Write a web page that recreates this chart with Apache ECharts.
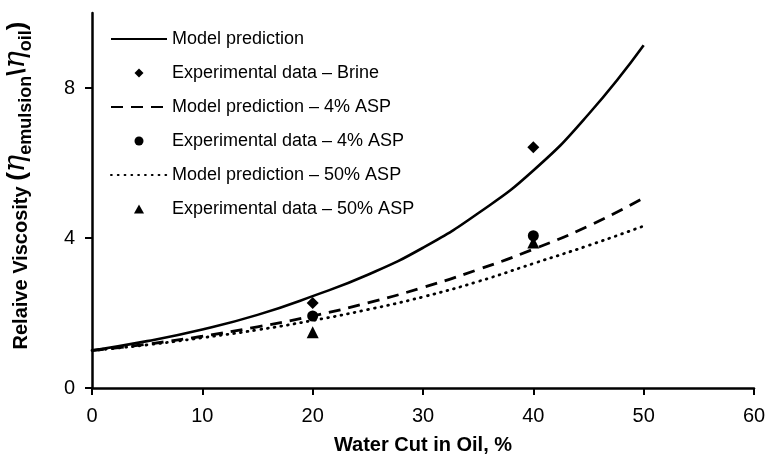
<!DOCTYPE html>
<html>
<head>
<meta charset="utf-8">
<script src="https://cdn.jsdelivr.net/npm/echarts@6/dist/echarts.min.js"></script>
<style>
  html, body { margin: 0; padding: 0; background: #fff; }
  #chart { width: 775px; height: 455px; }
</style>
</head>
<body>
<div id="chart"></div>
<script>
// Water cut (%) sample points for the model curves
const waterCut = [0, 5, 10, 15, 20, 25, 30, 35, 40, 45, 50];
const modelBrine = [1.00, 1.25, 1.56, 1.95, 2.45, 3.02, 3.74, 4.66, 5.80, 7.30, 9.14];
const model4ASP = [1.00, 1.17, 1.38, 1.63, 1.92, 2.27, 2.68, 3.16, 3.70, 4.32, 5.07];
const model50ASP = [1.00, 1.15, 1.34, 1.55, 1.80, 2.09, 2.43, 2.84, 3.32, 3.80, 4.32];

// Measured relative viscosity
const expWaterCut = [20, 40];
const expBrine = [2.27, 6.42];
const exp4ASP = [1.92, 4.06];
const exp50ASP = [1.49, 3.88];

const yTicks = [0, 4, 8];

const names = [
  'Model prediction',
  'Experimental data \u2013 Brine',
  'Model prediction \u2013 4% ASP',
  'Experimental data \u2013 4% ASP',
  'Model prediction \u2013 50% ASP',
  'Experimental data \u2013 50% ASP'
];

const pair = (xs, ys) => xs.map((x, i) => [x, ys[i]]);
const font = '"Liberation Sans", Arial, sans-serif';

const DIAMOND = 'path://M5,0 L10,5 L5,10 L0,5 Z';
const TRIANGLE = 'path://M5,0 L10,9 L0,9 Z';

function curve(name, ys, type, width) {
  return {
    name, type: 'line', smooth: true, showSymbol: false, symbol: 'none',
    data: pair(waterCut, ys),
    lineStyle: { color: '#000', width: width, type: type, cap: Array.isArray(type) && type[0] < 2 ? 'round' : 'butt' },
    itemStyle: { color: '#000' },
    z: 2
  };
}
function points(name, ys, symbol, size) {
  return {
    name, type: 'scatter', symbol, symbolSize: size,
    data: pair(expWaterCut, ys),
    itemStyle: { color: '#000', opacity: 1 },
    z: 3
  };
}

const chart = echarts.init(document.getElementById('chart'), null, { renderer: 'canvas' });
chart.setOption({
  animation: false,
  backgroundColor: '#fff',
  textStyle: { fontFamily: font },
  grid: { left: 92, right: 21, top: 13, bottom: 67, containLabel: false, outerBoundsMode: 'none' },
  legend: {
    orient: 'vertical', left: 110, top: 29, padding: 0,
    itemWidth: 56, itemHeight: 9, itemGap: 14,
    textStyle: { fontSize: 18, color: '#000', lineHeight: 20, fontFamily: font },
    data: [
      { name: names[0], itemStyle: { opacity: 0 } },
      { name: names[1], icon: DIAMOND },
      { name: names[2], itemStyle: { opacity: 0 } },
      { name: names[3], icon: 'circle' },
      { name: names[4], itemStyle: { opacity: 0 } },
      { name: names[5], icon: TRIANGLE }
    ]
  },
  xAxis: {
    type: 'value', min: 0, max: 60, interval: 10,
    name: 'Water Cut in Oil, %', nameLocation: 'middle', nameGap: 47,
    nameTextStyle: { fontSize: 20, fontWeight: 'bold', color: '#000', fontFamily: font },
    axisLine: { show: true, onZero: false, lineStyle: { color: '#000', width: 2.5 } },
    axisTick: { show: true, inside: false, length: 7, lineStyle: { color: '#000', width: 2 } },
    axisLabel: { fontSize: 20, color: '#000', margin: 18, fontFamily: font },
    splitLine: { show: false }
  },
  yAxis: {
    type: 'value', min: 0, max: 10,
    name: '{b|Relaive Viscosity }{p|(}{i|\u03b7}{s|emulsion}{p|\\}{i|\u03b7}{s|oil}{p|)}',
    nameLocation: 'middle', nameGap: 61, nameRotate: 90,
    nameTextStyle: {
      padding: [0, 0, 0, 30],
      rich: {
        b: { fontSize: 20, fontWeight: 'bold', color: '#000', fontFamily: font, lineHeight: 30, verticalAlign: 'bottom' },
        p: { fontSize: 26, fontWeight: 'bold', color: '#000', fontFamily: font, lineHeight: 30, verticalAlign: 'bottom' },
        i: { fontSize: 29, fontStyle: 'italic', color: '#000', fontFamily: '"DejaVu Serif", serif', lineHeight: 30, verticalAlign: 'bottom' },
        s: { fontSize: 18, fontWeight: 'bold', color: '#000', fontFamily: font, lineHeight: 30, verticalAlign: 'bottom', padding: [0, 0, -4, 0] }
      }
    },
    axisLine: { show: true, onZero: false, lineStyle: { color: '#000', width: 2.5 } },
    axisTick: { show: true, inside: false, length: 7, customValues: yTicks, lineStyle: { color: '#000', width: 2 } },
    axisLabel: { fontSize: 20, color: '#000', margin: 17, customValues: yTicks, fontFamily: font },
    splitLine: { show: false }
  },
  series: [
    curve(names[0], modelBrine, 'solid', 2.6),
    points(names[1], expBrine, 'diamond', 12),
    curve(names[2], model4ASP, [12, 8], 2.8),
    points(names[3], exp4ASP, 'circle', 11),
    curve(names[4], model50ASP, [0.8, 6], 2.8),
    points(names[5], exp50ASP, 'triangle', 12)
  ]
});
</script>
</body>
</html>
